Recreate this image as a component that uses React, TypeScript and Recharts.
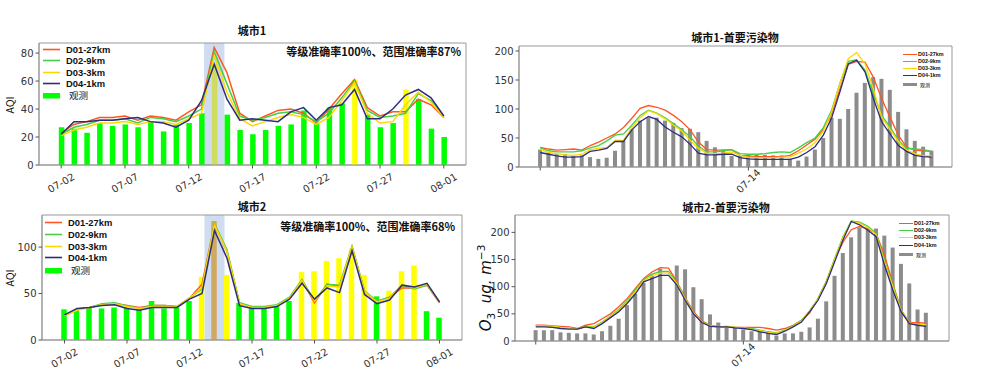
import React from 'react';
import { ComposedChart, Bar, Line, XAxis, YAxis, ReferenceArea, Cell } from 'recharts';

// ---------- categories ----------
const days = ['07-02','07-03','07-04','07-05','07-06','07-07','07-08','07-09','07-10','07-11','07-12','07-13','07-14','07-15','07-16','07-17','07-18','07-19','07-20','07-21','07-22','07-23','07-24','07-25','07-26','07-27','07-28','07-29','07-30','07-31','08-01'];
const dayTickIdx = [0, 5, 10, 15, 20, 25, 30];
const hourTickIdx = [0, 25];
const hourTickLabels = ['', '07-14'];
const seriesNames = ['D01-27km', 'D02-9km', 'D03-3km', 'D04-1km'];
const obsName = '观测';
const highlightDay = '07-14';

// ---------- 城市1 AQI (daily) ----------
const city1Obs = [27,26,23,30,28,29,27,31,24,29,30,37,72,36,25,22,25,28,29,39,30,41,44,61,36,27,30,54,47,26,20];
const city1D01 = [23,29,31,34,34,35,32,35,34,32,38,43,84,66,37,31,35,39,40,37,30,40,51,61,41,35,38,38,47,43,34];
const city1D02 = [22,27,29,32,32,33,30,34,33,31,35,40,81,58,35,32,34,37,38,36,31,37,48,60,39,34,35,37,51,46,35];
const city1D03 = [21,25,27,30,30,31,29,31,31,29,33,37,78,52,33,28,31,34,36,34,29,34,46,59,37,30,31,43,52,45,34];
const city1D04 = [22,31,31,32,32,33,34,31,30,27,32,46,72,47,32,33,32,31,38,41,32,41,43,54,33,33,40,50,54,48,35];

// ---------- 城市2 AQI (daily) ----------
const city2Obs = [33,32,35,34,35,35,33,42,34,35,42,68,128,70,40,35,35,37,42,73,74,85,88,98,70,47,53,74,80,31,24];
const city2D01 = [26,33,35,38,39,37,35,37,37,36,45,60,125,95,39,35,35,37,45,64,40,60,58,100,52,41,46,56,56,59,40];
const city2D02 = [26,33,35,39,40,37,34,37,37,36,45,55,125,97,40,36,36,38,46,65,42,60,59,101,53,42,46,59,55,59,41];
const city2D03 = [26,32,35,38,39,36,34,36,36,36,45,56,124,95,39,35,35,37,45,64,42,58,57,100,52,41,45,60,56,60,41];
const city2D04 = [27,34,35,37,38,34,32,35,35,35,44,50,118,88,37,34,34,36,44,61,44,56,51,96,49,39,43,59,57,61,41];

// ---------- 城市1 O3 (hourly) ----------
const o3c1Obs = [30,25,22,22,19,20,17,14,16,28,45,65,80,85,85,80,76,67,66,60,45,34,30,19,20,21,22,21,20,20,14,11,18,30,50,85,83,100,128,145,155,152,133,95,65,45,35,28];
const o3c1D01 = [34,31,29,30,31,29,37,43,50,57,68,84,101,106,103,98,89,78,64,43,30,29,29,30,20,19,18,18,18,18,20,28,38,48,65,92,135,177,182,181,155,118,86,55,34,29,28,27];
const o3c1D02 = [33,28,26,26,26,28,33,37,45,55,57,72,89,98,93,85,75,64,52,36,26,26,28,30,23,22,22,23,25,26,25,33,42,50,68,98,145,182,185,167,127,89,69,46,32,31,30,27];
const o3c1D03 = [30,25,23,21,20,22,30,32,34,46,46,68,85,97,92,83,72,62,46,32,24,23,24,26,20,17,16,16,16,17,17,24,31,42,62,95,145,187,197,178,135,86,65,44,29,23,19,19];
const o3c1D04 = [25,22,19,17,17,18,27,29,32,44,44,64,78,87,82,69,60,52,39,24,21,21,22,22,16,14,13,13,13,13,13,17,25,35,55,85,130,178,184,164,118,78,57,37,27,20,18,17];

// ---------- 城市2 O3 (hourly) ----------
const o3c2Obs = [20,20,20,16,15,14,14,12,18,28,41,66,87,107,122,133,null,139,132,99,77,49,34,28,25,21,18,18,15,10,14,14,17,25,41,73,120,162,191,209,209,207,194,172,142,106,58,52];
const o3c2D01 = [29,29,28,27,26,23,29,32,41,50,63,78,97,115,127,135,134,109,80,54,37,29,26,26,25,25,25,25,23,20,23,29,38,52,78,110,150,182,205,211,206,198,158,106,57,34,34,33];
const o3c2D02 = [28,28,27,25,24,22,27,26,35,46,58,74,94,113,123,128,128,107,78,52,36,28,26,26,25,24,23,20,17,15,20,28,38,56,78,110,152,192,221,219,211,198,149,103,57,32,31,31];
const o3c2D03 = [28,28,27,25,24,22,26,25,34,45,56,72,91,111,120,125,125,105,77,51,35,28,26,26,25,24,22,19,16,14,19,27,37,55,77,108,150,190,220,217,209,196,145,100,56,33,31,30];
const o3c2D04 = [26,26,25,23,22,22,26,23,32,43,54,69,87,109,115,121,121,103,75,50,34,27,26,26,24,23,21,17,14,12,18,26,35,54,75,106,146,186,220,214,204,192,140,94,54,32,29,27];

// ---------- styles ----------
const LINE_COLORS = ['#ff5522', '#44d044', '#ffd700', '#2d2d7d'];
const GREEN = '#00ff00';
const YELLOW = '#ffff00';
const ORANGE = '#ffa500';
// same level colours as seen through the translucent highlight band
const GREEN_B = '#4fdc5f';
const YELLOW_B = '#d0dc5f';
const ORANGE_B = '#d0a95f';
const BAND = '#92aedd';
const GRAY = '#8c8c8c';
const SPINE = '#999999';
const CJK = "'Noto Sans CJK SC', 'DejaVu Sans', sans-serif";
const LATIN = "'Liberation Sans', Arial, sans-serif";
const TICKFONT = "'DejaVu Sans', sans-serif";

const aqiColor = (v: number | null, inBand: boolean) => {
  if (v == null) return 'none';
  if (v <= 50) return inBand ? GREEN_B : GREEN;
  if (v <= 100) return inBand ? YELLOW_B : YELLOW;
  return inBand ? ORANGE_B : ORANGE;
};

function buildRows(obs: (number | null)[], a: number[], b: number[], c: number[], d: number[]) {
  return obs.map((o, i) => ({ i, obs: o, d01: a[i], d02: b[i], d03: c[i], d04: d[i] }));
}

const makeXTick = (idx: number[], labels: string[], angle: number, dy: number, fs: number) => (props: any) => {
  const { x, y, payload } = props;
  const k = idx.indexOf(payload.value);
  const label = k >= 0 ? labels[k] : '';
  const cy = y + dy;
  return (
    <text x={x} y={cy} transform={`rotate(${-angle} ${x} ${cy})`} textAnchor="middle" dominantBaseline="central"
      fontSize={fs} fontFamily={TICKFONT} fill="#333">{label}</text>
  );
};

type PanelProps = {
  left: number; top: number; width: number; height: number;
  margin: { top: number; right: number; left: number; bottom: number };
  yWidth: number; xHeight: number;
  data: any[]; xDomain: [number, number]; xTicks: number[]; xTick: any;
  yDomain: [number, number]; yTicks: number[];
  barSize: number; barFill: (v: number | null, i: number) => string;
  band?: [number, number]; lw: number;
};

function Panel(p: PanelProps) {
  return (
    <div style={{ position: 'absolute', left: p.left, top: p.top }}>
      <ComposedChart width={p.width} height={p.height} data={p.data} margin={p.margin}>
        <XAxis dataKey="i" type="number" domain={p.xDomain} ticks={p.xTicks} interval={0} allowDataOverflow
          height={p.xHeight} tick={p.xTick} tickSize={3.5} tickMargin={0}
          axisLine={{ stroke: SPINE }} tickLine={{ stroke: '#555' }} />
        <YAxis type="number" domain={p.yDomain} ticks={p.yTicks} interval={0} allowDataOverflow width={p.yWidth}
          tickSize={3.5} tickMargin={2} tick={{ fontSize: 10, fill: '#333', fontFamily: TICKFONT }}
          axisLine={{ stroke: SPINE }} tickLine={{ stroke: '#555' }} />
        {p.band && (
          <ReferenceArea x1={p.band[0]} x2={p.band[1]} y1={p.yDomain[0]} y2={p.yDomain[1]}
            fill={BAND} fillOpacity={0.43} stroke="none" />
        )}
        <Bar dataKey="obs" barSize={p.barSize} isAnimationActive={false}>
          {p.data.map((r, i) => <Cell key={i} fill={p.barFill(r.obs, i)} />)}
        </Bar>
        {['d01', 'd02', 'd03', 'd04'].map((k, j) => (
          <Line key={k} dataKey={k} type="linear" stroke={LINE_COLORS[j]} strokeWidth={p.lw} dot={false}
            isAnimationActive={false} />
        ))}
        <ReferenceArea x1={p.xDomain[0]} x2={p.xDomain[1]} y1={p.yDomain[0]} y2={p.yDomain[1]}
          fill="none" fillOpacity={0} stroke={SPINE} strokeWidth={1} />
      </ComposedChart>
    </div>
  );
}

const abs = (x: number, y: number, extra: React.CSSProperties = {}): React.CSSProperties => ({
  position: 'absolute', left: x, top: y, whiteSpace: 'nowrap', lineHeight: 1, ...extra,
});

function BigLegend({ x, ys }: { x: number; ys: number[] }) {
  return (
    <>
      {seriesNames.map((n, j) => (
        <div key={n} style={abs(x, ys[j] - 5.5, { height: 11, display: 'flex', alignItems: 'center' })}>
          <svg width={18} height={11} style={{ display: 'block' }}><line x1={0} y1={5.5} x2={17} y2={5.5} stroke={LINE_COLORS[j]} strokeWidth={1.6} /></svg>
          <span style={{ marginLeft: 5, fontFamily: LATIN, fontWeight: 700, fontSize: 9.4, lineHeight: '11px', color: '#111' }}>{n}</span>
        </div>
      ))}
      <div style={abs(x, ys[4] - 5.5, { height: 11, display: 'flex', alignItems: 'center' })}>
        <svg width={18} height={11} style={{ display: 'block' }}><rect x={0} y={3} width={17} height={5.5} fill={GREEN} /></svg>
        <span style={{ marginLeft: 8, fontFamily: CJK, fontSize: 9.5, lineHeight: '11px', color: '#111' }}>{obsName}</span>
      </div>
    </>
  );
}

function SmallLegend({ x, ys }: { x: number; ys: number[] }) {
  return (
    <>
      {seriesNames.map((n, j) => (
        <div key={n} style={abs(x, ys[j] - 3.5, { height: 7, display: 'flex', alignItems: 'center' })}>
          <svg width={14} height={7} style={{ display: 'block' }}><line x1={0} y1={3.5} x2={14} y2={3.5} stroke={LINE_COLORS[j]} strokeWidth={1} /></svg>
          <span style={{ marginLeft: 1, fontFamily: LATIN, fontWeight: 700, fontSize: 5.4, lineHeight: '7px', color: '#111' }}>{n}</span>
        </div>
      ))}
      <div style={abs(x, ys[4] - 3.5, { height: 7, display: 'flex', alignItems: 'center' })}>
        <svg width={14} height={7} style={{ display: 'block' }}><rect x={0} y={2} width={14} height={3} fill={GRAY} /></svg>
        <span style={{ marginLeft: 3, fontFamily: CJK, fontSize: 5, lineHeight: '7px', color: '#111' }}>{obsName}</span>
      </div>
    </>
  );
}

const titleStyle = (cx: number, cy: number): React.CSSProperties => ({
  position: 'absolute', left: cx, top: cy, transform: 'translate(-50%, -50%)', whiteSpace: 'nowrap',
  fontFamily: CJK, fontWeight: 700, fontSize: 11, color: '#111', lineHeight: 1,
});

const vLabel = (cx: number, cy: number, fs: number, family: string): React.CSSProperties => ({
  position: 'absolute', left: cx, top: cy, transform: 'translate(-50%, -50%) rotate(-90deg)', whiteSpace: 'nowrap',
  fontFamily: family, fontSize: fs, color: '#111', lineHeight: 1,
});

export default function App() {
  const d1 = buildRows(city1Obs, city1D01, city1D02, city1D03, city1D04);
  const d2 = buildRows(city2Obs, city2D01, city2D02, city2D03, city2D04);
  const h1 = buildRows(o3c1Obs, o3c1D01, o3c1D02, o3c1D03, o3c1D04);
  const h2 = buildRows(o3c2Obs, o3c2D01, o3c2D02, o3c2D03, o3c2D04);
  const hi = days.indexOf(highlightDay);
  const dayTick = makeXTick(dayTickIdx, dayTickIdx.map((i) => days[i]), 30, 14.5, 10);
  const hourTick = makeXTick(hourTickIdx, hourTickLabels, 45, 10.5, 10);
  const dayFill = (v: number | null, i: number) => aqiColor(v, i === hi);

  return (
    <div style={{ position: 'absolute', left: 0, top: 0, width: 987, height: 377, background: '#fff', overflow: 'hidden' }}>
      {/* 城市1 AQI */}
      <Panel left={0} top={20} width={480} height={180} margin={{ top: 23, right: 14, left: 0, bottom: 0 }}
        yWidth={39} xHeight={35} data={d1} xDomain={[-1.74, 31.74]} xTicks={dayTickIdx} xTick={dayTick}
        yDomain={[0, 87.2]} yTicks={[0, 20, 40, 60, 80]} barSize={5.5} barFill={dayFill} band={[hi - 0.8, hi + 0.8]} lw={1.5} />
      {/* 城市2 AQI */}
      <Panel left={0} top={195} width={480} height={180} margin={{ top: 20, right: 18, left: 0, bottom: 0 }}
        yWidth={42} xHeight={35} data={d2} xDomain={[-1.8, 31.8]} xTicks={dayTickIdx} xTick={dayTick}
        yDomain={[0, 134.5]} yTicks={[0, 50, 100]} barSize={5.5} barFill={dayFill} band={[hi - 0.8, hi + 0.8]} lw={1.5} />
      {/* 城市1 O3 */}
      <Panel left={480} top={20} width={490} height={180} margin={{ top: 26, right: 18, left: 0, bottom: 0 }}
        yWidth={39} xHeight={33} data={h1} xDomain={[-2.55, 49.45]} xTicks={hourTickIdx} xTick={hourTick}
        yDomain={[0, 208.6]} yTicks={[0, 50, 100, 150, 200]} barSize={4} barFill={() => GRAY} lw={1.3} />
      {/* 城市2 O3 */}
      <Panel left={480} top={195} width={490} height={180} margin={{ top: 20, right: 21, left: 0, bottom: 0 }}
        yWidth={35} xHeight={34} data={h2} xDomain={[-2.5, 49.77]} xTicks={hourTickIdx} xTick={hourTick}
        yDomain={[0, 232]} yTicks={[0, 50, 100, 150, 200]} barSize={4} barFill={(v) => (v == null ? 'none' : GRAY)} lw={1.3} />

      {/* titles */}
      <div style={titleStyle(252, 30)}>城市1</div>
      <div style={titleStyle(252, 205.5)}>城市2</div>
      <div style={titleStyle(735, 36.5)}>城市1-首要污染物</div>
      <div style={titleStyle(726, 206.5)}>城市2-首要污染物</div>

      {/* annotations */}
      <div style={{ position: 'absolute', right: 987 - 461, top: 46, whiteSpace: 'nowrap', lineHeight: 1, fontFamily: CJK, fontWeight: 700, fontSize: 11, color: '#111' }}>等级准确率100%、范围准确率87%</div>
      <div style={{ position: 'absolute', right: 987 - 455, top: 221, whiteSpace: 'nowrap', lineHeight: 1, fontFamily: CJK, fontWeight: 700, fontSize: 11, color: '#111' }}>等级准确率100%、范围准确率68%</div>

      {/* y labels */}
      <div style={vLabel(10, 105, 10.5, CJK)}>AQI</div>
      <div style={vLabel(10, 278, 10.5, CJK)}>AQI</div>
      <div style={vLabel(486, 288, 15, "'DejaVu Sans', sans-serif")}>
        <span style={{ fontStyle: 'italic' }}>O</span><sub style={{ fontSize: 10.5 }}>3</sub>
        <span style={{ fontStyle: 'italic' }}>&nbsp; ug. m</span><sup style={{ fontSize: 10.5 }}>−3</sup>
      </div>

      {/* legends */}
      <BigLegend x={43} ys={[49.3, 60.7, 72, 83.3, 95.7]} />
      <BigLegend x={45} ys={[222.7, 234.3, 246, 257.3, 270]} />
      <SmallLegend x={903} ys={[54.7, 61.7, 68.3, 75, 84]} />
      <SmallLegend x={899} ys={[223.3, 230.3, 237.7, 245, 254]} />
    </div>
  );
}
